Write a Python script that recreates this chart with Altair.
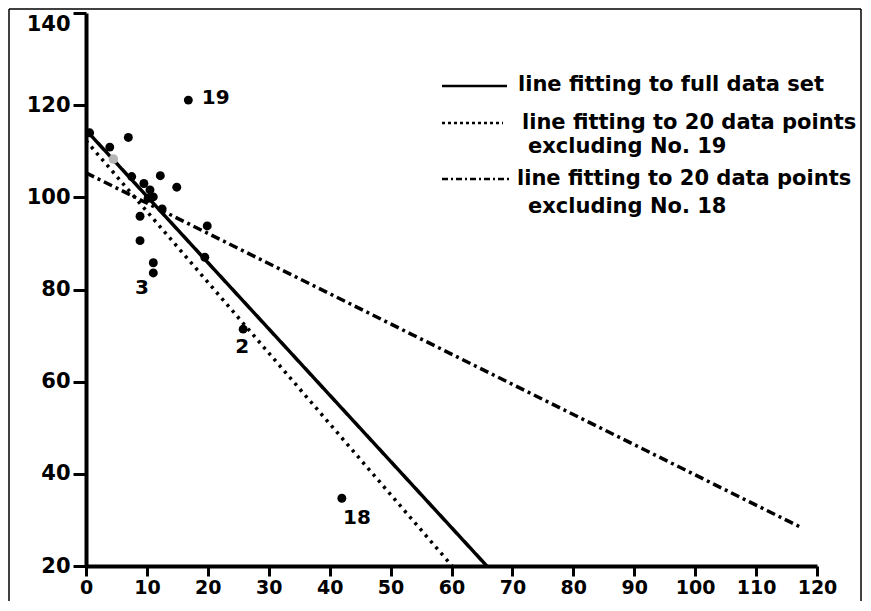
import altair as alt
import pandas as pd

# ---- data ----
pt_x = [16.8, 6.95, 12.2, 14.9, 10.5, 11.05, 10.2, 8.87, 8.87, 11.05, 11.05,
        3.9, 19.9, 19.5, 25.8, 42.0, 0.6, 7.5, 9.5, 12.5]
pt_y = [121.1, 113.0, 104.7, 102.2, 101.6, 100.1, 99.8, 95.9, 90.6, 85.8, 83.6,
        110.9, 93.8, 87.0, 71.4, 34.7, 114.0, 104.5, 103.0, 97.5]
faint_x = [4.5]
faint_y = [108.3]

fit_name = ["full", "excl19", "excl18"]
fit_x0 = [0.0, 0.0, 0.0]
fit_y0 = [114.6, 112.3, 105.3]
fit_x1 = [65.8, 60.1, 117.5]
fit_y1 = [20.0, 20.0, 28.3]

lab_text = ["19", "3", "2", "18"]
lab_x = [19.0, 8.05, 24.5, 42.2]
lab_y = [121.5, 80.3, 67.5, 30.4]

x_ticks = list(range(0, 121, 10))
y_ticks = list(range(20, 141, 20))

leg_text = ["line fitting to full data set", "line fitting to 20 data points",
            "excluding No. 19", "line fitting to 20 data points", "excluding No. 18"]
leg_tx = [432, 436, 442, 431, 442]
leg_ty = [72, 110, 134, 166, 194]

FONT = "DejaVu Sans"
W, H = 731, 553

pts = pd.DataFrame({"x": pt_x, "y": pt_y})
faint = pd.DataFrame({"x": faint_x, "y": faint_y})
fits = pd.DataFrame({"name": fit_name, "x0": fit_x0, "y0": fit_y0, "x1": fit_x1, "y1": fit_y1})
labs = pd.DataFrame({"t": lab_text, "x": lab_x, "y": lab_y})

xs = alt.Scale(domain=[0, 120], nice=False, zero=False)
ys = alt.Scale(domain=[20, 140], nice=False, zero=False)

x_axis = alt.Axis(values=x_ticks, title=None, grid=False, labelFlush=False,
                  labelOverlap=False, tickSize=10, labelPadding=2,
                  labelFontSize=19, labelFont=FONT, labelFontWeight="bold",
                  labelColor="black", domainColor="black", domainWidth=4,
                  tickColor="black", tickWidth=3)
y_axis = alt.Axis(values=y_ticks, title=None, grid=False, labelFlush=False,
                  labelOverlap=False, tickSize=13, labelPadding=3,
                  labelFontSize=21, labelFont=FONT, labelFontWeight="bold",
                  labelColor="black", domainColor="black", domainWidth=4,
                  tickColor="black", tickWidth=3,
                  labelBaseline=alt.condition("datum.value == 140", alt.value("top"), alt.value("middle")))


def fit_layer(name, dash, width):
    return alt.Chart(fits).transform_filter(alt.datum.name == name).mark_rule(
        color="black", strokeWidth=width, strokeDash=dash, strokeCap="butt"
    ).encode(
        x=alt.X("x0:Q", scale=xs, axis=x_axis),
        y=alt.Y("y0:Q", scale=ys, axis=y_axis),
        x2="x1:Q", y2="y1:Q",
    )

base_line = fit_layer("full", [1, 0], 3.5)
dot_line = fit_layer("excl19", [3, 5], 3.5)
dd_line = fit_layer("excl18", [9, 4, 3, 4], 3.5)

points = alt.Chart(pts).mark_circle(size=80, color="black", opacity=1).encode(
    x=alt.X("x:Q", scale=xs), y=alt.Y("y:Q", scale=ys))
faint_pts = alt.Chart(faint).mark_circle(size=90, color="#b5b5b5", opacity=1).encode(
    x=alt.X("x:Q", scale=xs), y=alt.Y("y:Q", scale=ys))

labels = alt.Chart(labs).mark_text(font=FONT, fontSize=20, fontWeight="bold",
                                   color="black", align="left", baseline="middle").encode(
    x=alt.X("x:Q", scale=xs), y=alt.Y("y:Q", scale=ys), text="t:N")

# legend (drawn as annotation)
one = pd.DataFrame({"a": [0]})
leg_solid = alt.Chart(one).mark_rule(color="black", strokeWidth=2.5).encode(
    x=alt.value(356), x2=alt.value(421), y=alt.value(73))
leg_dot = alt.Chart(one).mark_rule(color="black", strokeWidth=2.5, strokeDash=[3, 3]).encode(
    x=alt.value(356), x2=alt.value(417), y=alt.value(110))
leg_dd = alt.Chart(one).mark_rule(color="black", strokeWidth=2.5, strokeDash=[6, 3, 2, 3]).encode(
    x=alt.value(356), x2=alt.value(424), y=alt.value(166))
leg_df = pd.DataFrame({"t": leg_text, "px": leg_tx, "py": leg_ty})
leg_txt = alt.Chart(leg_df).mark_text(font=FONT, fontSize=21, fontWeight="bold",
                                      color="black", align="left", baseline="middle").encode(
    x=alt.X("px:Q", scale=None), y=alt.Y("py:Q", scale=None), text="t:N")

# outer frame
frame_l = alt.Chart(one).mark_rule(color="black", strokeWidth=1.5).encode(
    x=alt.value(-77), y=alt.value(-4), y2=alt.value(590))
frame_t = alt.Chart(one).mark_rule(color="black", strokeWidth=1.5).encode(
    x=alt.value(-77), x2=alt.value(775), y=alt.value(-4))
frame_r = alt.Chart(one).mark_rule(color="black", strokeWidth=1.5).encode(
    x=alt.value(775), y=alt.value(-4), y2=alt.value(590))

chart = alt.layer(
    base_line, dot_line, dd_line, faint_pts, points, labels,
    leg_solid, leg_dot, leg_dd, leg_txt, frame_l, frame_t, frame_r
).properties(
    width=W, height=H,
    autosize=alt.AutoSizeParams(type="none"),
    padding={"left": 78, "top": 5, "right": 46, "bottom": 35},
    background="white",
).configure_view(stroke=None)

chart.save("out.html", embed_options={"renderer": "svg", "actions": False})
